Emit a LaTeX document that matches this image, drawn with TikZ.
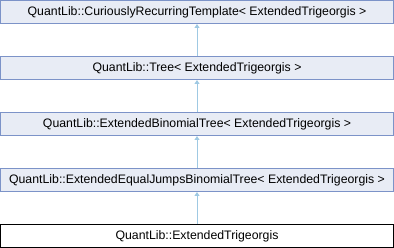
\documentclass[tikz,border=0pt]{standalone}
\usepackage{fontspec}
\setmainfont{Liberation Sans}
\usepackage{tikz}
\usetikzlibrary{arrows.meta}

\definecolor{boxfill}{HTML}{E8ECF5}
\definecolor{boxline}{HTML}{7C93C8}
\definecolor{inherit}{HTML}{9FC9E3}

\tikzset{
  cls/.style={draw=boxline, fill=boxfill, line width=1pt, minimum width=393pt,
    minimum height=23pt, inner sep=0pt, font=\fontsize{12.3pt}{14pt}\selectfont},
  leaf/.style={cls, draw=black, fill=white},
  isa/.style={draw=inherit, line width=1pt, -{Triangle[width=5pt,length=4pt]}}
}

\begin{document}
\begin{tikzpicture}[x=1pt,y=1pt]
\useasboundingbox (0,0) rectangle (394,-248);

\node[cls] (crt) at (197,-12) {QuantLib::CuriouslyRecurringTemplate< ExtendedTrigeorgis >};
\node[cls] (tree) at (197,-68) {QuantLib::Tree< ExtendedTrigeorgis >};
\node[cls] (binom) at (197,-124) {QuantLib::ExtendedBinomialTree< ExtendedTrigeorgis >};
\node[cls] (eqjump) at (197,-180) {QuantLib::ExtendedEqualJumpsBinomialTree< ExtendedTrigeorgis >};
\node[leaf] (trig) at (197,-236) {QuantLib::ExtendedTrigeorgis};

\draw[isa] (tree) -- (crt);
\draw[isa] (binom) -- (tree);
\draw[isa] (eqjump) -- (binom);
\draw[isa] (trig) -- (eqjump);
\end{tikzpicture}
\end{document}
